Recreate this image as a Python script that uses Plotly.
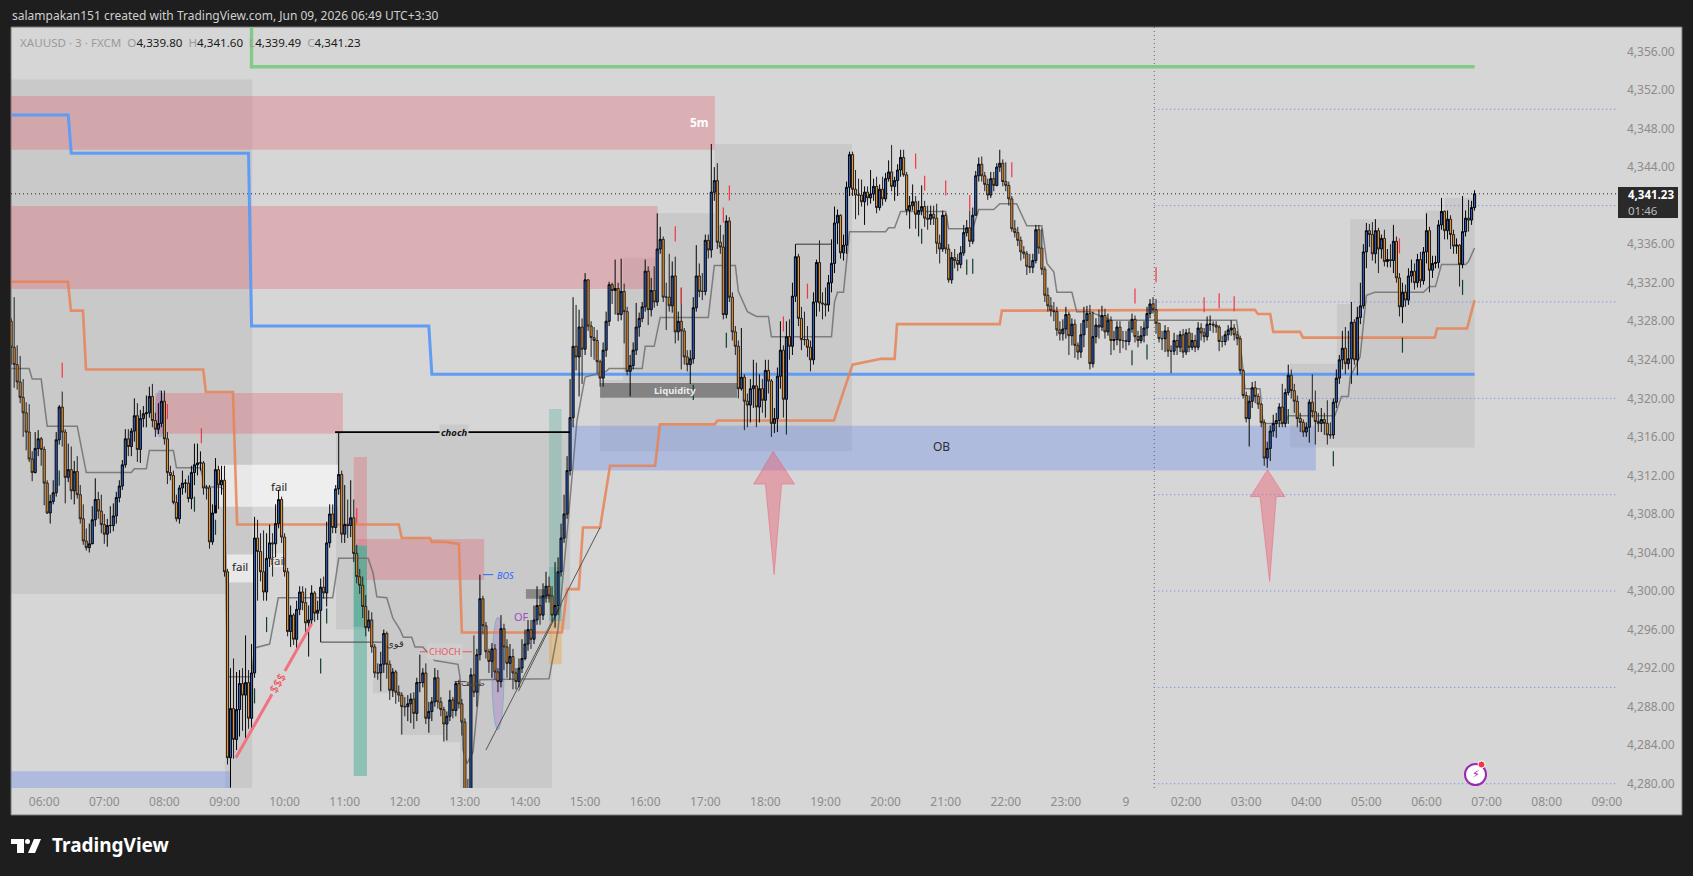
import plotly.graph_objects as go

# ---------- price data: one row per hour-ish (values are price minus PRICE_BASE) ----------
PRICE_BASE = 4200
FIRST_BAR = -1
FIRST_OPEN = 128.0
CLOSE = [
125.3,123.5,121.7,120.1,118.5,116.5,113.7,112.3,114.8,115.8,114.7,111.2,108.1,109.3,110.2,115.7,119.1,116.5,111.8,112.6,
110.4,112.4,110.0,107.5,105.2,104.5,104.9,107.4,109.5,108.3,106.9,105.9,106.8,106.8,107.8,109.7,110.9,113.1,115.8,115.0,
116.6,118.2,114.7,117.9,118.4,118.5,120.2,117.7,116.8,117.4,119.7,115.8,112.3,112.0,109.2,107.5,110.7,111.2,111.2,109.6,
112.3,113.1,113.3,113.3,110.7,110.7,105.1,108.1,112.6,111.0,111.5,102.0,82.7,87.8,84.6,87.7,90.4,89.2,90.5,86.8,
91.5,105.5,104.1,102.0,99.9,103.4,105.0,104.9,107.0,109.5,105.6,102.0,95.8,97.5,95.0,98.1,99.9,98.8,96.7,97.0,
99.8,97.7,98.0,100.4,99.8,105.0,108.0,106.6,110.6,112.1,105.9,106.9,106.8,107.6,103.9,101.5,100.6,98.4,96.2,97.0,
94.2,91.5,91.5,92.4,95.6,92.4,89.7,91.6,89.5,89.2,88.0,88.0,88.3,88.8,87.3,90.5,90.5,91.5,86.8,87.5,
88.5,91.0,88.5,87.7,86.2,87.0,88.7,87.6,90.4,88.3,86.4,79.2,79.0,91.3,89.5,93.4,99.2,96.4,93.7,92.7,
94.0,91.6,90.6,96.1,94.2,92.5,93.2,91.5,90.6,92.0,93.0,94.5,96.0,95.0,97.0,98.5,97.5,99.5,100.5,99.5,
97.5,98.5,102.0,105.5,108.0,112.5,118.0,125.4,124.3,127.4,125.1,132.3,127.5,126.3,126.0,123.8,122.1,125.0,128.0,131.8,
131.2,131.4,128.7,131.1,129.0,122.8,123.4,125.0,127.4,128.3,129.5,133.2,129.2,131.2,130.0,135.5,136.5,130.5,130.5,129.6,
132.7,126.9,128.0,127.0,124.3,123.5,124.1,129.4,132.7,131.1,131.1,136.4,135.4,141.4,142.6,136.2,135.7,128.7,138.4,130.5,
126.9,125.4,121.0,122.2,119.7,119.3,121.0,121.3,119.1,121.0,119.8,122.9,121.8,117.4,117.9,122.3,125.0,119.9,126.4,125.4,
130.6,134.7,128.3,126.1,126.1,125.3,124.0,130.0,134.1,129.9,129.8,129.7,132.0,134.0,138.2,139.0,135.1,135.9,141.9,145.3,
141.7,141.1,141.1,140.4,141.4,140.8,141.2,142.0,139.8,141.7,140.7,142.8,143.5,142.0,142.6,143.7,145.0,143.2,139.5,140.0,
140.4,139.1,139.5,139.9,138.7,138.6,139.1,138.7,136.1,135.5,139.0,135.5,132.3,134.6,134.3,133.9,135.1,137.2,137.7,136.3,
139.0,143.1,144.3,143.1,142.2,141.1,142.8,142.1,144.0,144.4,142.5,142.1,140.7,137.6,137.2,136.4,135.2,135.0,133.7,133.6,
134.3,137.5,135.6,133.4,130.7,129.6,129.1,129.0,127.1,126.7,127.2,128.7,126.5,127.7,125.5,124.8,126.6,128.1,128.8,123.6,
126.4,127.6,127.4,128.6,126.9,128.1,126.0,126.1,127.4,126.0,126.0,125.9,127.2,128.2,126.4,126.0,126.5,127.3,128.8,129.8,
129.2,127.8,126.2,126.2,127.0,124.9,124.9,126.0,125.3,126.6,124.8,126.8,125.3,126.0,125.3,127.3,126.8,126.4,127.7,127.7,
127.6,127.4,125.9,125.9,126.6,127.1,127.3,126.6,126.2,122.9,120.3,117.9,119.7,121.1,120.2,119.4,117.5,113.8,114.8,116.6,
117.4,117.7,119.1,117.4,120.6,122.4,120.8,119.7,117.9,117.5,116.5,117.0,119.6,118.6,117.6,117.4,117.8,117.4,116.2,116.2,
119.6,122.1,124.0,125.2,123.6,124.1,127.9,124.0,128.4,129.6,135.2,137.4,137.0,135.0,137.4,135.5,136.6,134.2,134.4,134.3,
136.3,132.5,129.5,131.0,130.2,132.7,133.2,132.0,134.4,132.2,135.2,137.4,133.3,134.0,134.1,138.0,139.4,137.4,138.6,137.0,
135.8,135.9,133.9,137.3,138.7,138.5,139.8,141.23,
]
HIGH = [
128.3,130.5,125.5,124.4,122.0,119.6,119.4,114.5,116.5,116.7,116.0,115.0,111.5,110.0,111.5,116.5,119.3,120.7,116.8,115.3,
115.0,113.5,114.0,111.0,109.0,106.5,107.0,108.8,111.7,110.3,110.0,108.0,107.5,108.8,109.1,110.3,111.5,113.6,116.8,116.8,
116.9,120.0,119.5,118.8,119.2,120.3,121.2,121.5,118.5,119.5,120.8,120.8,116.5,113.0,112.5,110.0,111.0,112.5,111.6,112.0,
113.0,115.3,115.3,114.5,113.5,111.0,111.0,109.0,113.8,113.0,113.0,113.0,102.3,92.0,93.0,91.6,91.8,92.0,95.4,91.8,
94.5,107.7,107.4,106.0,106.3,106.0,106.9,106.0,109.0,110.5,109.8,106.0,102.4,98.5,97.7,99.0,100.5,100.5,100.3,98.5,
100.6,100.0,99.0,101.3,101.5,107.2,109.0,109.0,111.0,116.5,112.5,111.0,109.5,111.5,109.5,104.8,102.3,101.5,99.6,98.0,
97.8,94.5,92.5,93.7,96.0,95.8,92.8,92.0,91.8,90.2,89.5,89.0,89.2,89.4,89.5,91.0,93.4,92.0,92.5,88.5,
89.0,92.0,91.8,89.0,88.0,87.5,89.7,89.0,90.6,90.8,88.8,86.8,80.5,92.0,95.4,94.0,101.7,99.5,96.8,94.0,
94.6,94.5,92.0,97.5,96.6,95.0,94.5,94.0,92.0,93.0,95.0,96.0,97.0,97.0,98.5,100.5,99.5,100.8,102.0,101.5,
100.5,103.0,103.5,107.0,110.0,114.0,122.0,130.5,129.7,129.2,128.3,133.0,132.3,128.0,127.4,127.1,124.0,125.8,129.0,132.1,
132.0,134.4,132.0,134.5,131.9,129.5,124.5,125.8,129.9,128.9,130.0,134.4,133.7,132.5,133.7,139.2,137.8,136.8,132.0,135.0,
134.2,134.7,129.0,131.5,127.3,125.0,125.0,130.5,135.9,134.0,133.0,137.0,137.0,146.4,144.0,144.4,138.0,137.0,139.0,138.8,
131.0,127.5,126.0,127.3,122.5,120.5,122.0,124.0,123.7,122.5,122.0,124.0,124.0,122.0,119.0,123.2,128.0,125.5,128.0,128.2,
132.0,136.0,135.0,129.5,129.0,127.5,126.0,131.0,134.4,136.4,131.0,131.5,132.8,136.5,139.9,139.6,139.1,137.0,142.5,145.6,
145.6,143.7,142.8,142.7,142.0,142.0,143.7,142.8,143.0,142.2,143.0,143.4,144.7,146.3,143.0,144.3,145.8,145.8,143.5,141.0,
142.2,141.0,140.5,142.1,140.5,140.0,140.0,140.0,140.2,137.0,139.5,139.2,136.0,135.2,135.5,135.0,135.8,138.0,138.5,139.5,
139.8,143.6,145.0,145.1,143.5,142.8,143.5,143.5,144.4,145.8,144.8,144.5,142.5,141.0,138.5,137.8,136.8,135.8,135.3,135.0,
135.0,138.0,138.0,137.6,133.7,131.5,130.5,130.0,129.5,128.0,128.2,129.5,129.0,128.3,128.2,125.8,127.8,129.5,129.6,129.7,
129.0,128.3,129.2,129.6,129.3,128.8,128.5,127.0,128.0,128.0,127.0,127.0,128.0,128.8,128.6,127.0,127.5,128.0,129.5,130.3,
130.5,130.3,127.8,127.0,127.6,127.4,125.5,126.8,126.6,127.0,127.2,127.2,127.3,126.8,126.6,127.9,127.8,127.3,128.5,128.6,
128.0,128.0,127.6,126.5,127.0,127.6,128.1,127.7,127.0,126.5,123.0,120.7,120.3,121.7,121.8,120.5,119.5,117.8,115.5,117.2,
118.3,118.5,119.5,121.5,121.0,123.5,123.0,121.5,120.3,118.5,117.8,117.5,119.9,122.5,120.8,118.5,119.0,118.5,119.8,117.5,
120.0,123.0,124.5,127.0,127.4,127.0,130.0,128.2,129.5,132.0,136.0,138.2,138.1,138.3,138.6,137.7,137.0,137.5,135.5,136.0,
138.0,136.8,133.0,132.0,131.8,133.5,134.4,134.0,135.0,135.2,135.7,139.2,137.8,134.8,134.8,138.5,140.8,139.5,139.5,139.0,
137.5,136.6,136.0,141.0,139.5,140.6,140.5,141.6,
]
LOW = [
123.5,121.1,120.9,119.5,116.0,114.6,113.4,111.4,112.2,114.0,113.0,108.9,108.0,107.0,109.0,109.8,115.2,115.0,109.1,111.3,
109.5,109.0,109.6,107.0,104.8,104.2,104.0,105.0,106.7,107.5,106.0,104.9,104.6,106.0,106.2,107.0,109.2,110.5,112.8,114.0,
114.0,115.5,113.4,113.3,117.0,117.0,118.0,117.0,116.0,116.3,117.0,115.2,111.1,111.5,109.0,107.2,107.0,110.0,110.2,109.2,
108.5,111.0,112.0,112.5,110.0,109.5,104.4,104.8,108.9,108.5,110.0,101.5,82.0,79.6,82.6,83.5,84.9,85.5,84.7,85.7,
85.6,91.0,99.0,101.0,99.0,99.0,102.5,101.5,103.5,106.5,105.0,101.5,95.3,94.2,94.4,94.0,97.5,98.0,95.6,93.2,
96.5,96.8,97.0,94.7,99.2,98.4,104.5,106.0,106.0,110.0,105.0,105.0,105.5,105.6,103.0,100.8,99.7,97.2,95.3,95.8,
93.6,91.0,90.8,89.6,91.5,90.9,88.7,89.0,88.3,88.5,85.1,87.0,86.5,86.3,85.7,86.5,89.5,90.0,86.2,85.3,
86.5,88.0,87.8,87.0,84.4,84.5,86.5,86.8,87.0,87.8,85.0,78.5,78.0,79.0,89.0,88.0,92.8,95.5,93.0,91.5,
91.0,90.8,89.5,90.0,91.8,91.0,90.8,89.8,89.8,90.0,91.5,92.8,93.8,94.0,94.5,96.5,96.5,97.0,98.8,98.8,
96.8,96.2,97.5,101.5,105.0,107.5,112.0,117.0,122.9,120.2,121.5,124.5,127.0,124.3,124.0,122.6,121.2,121.2,124.3,127.5,
129.8,128.7,128.0,128.1,125.7,122.4,120.2,123.0,124.5,126.4,127.9,129.0,127.6,128.5,129.4,129.6,135.0,130.0,127.1,129.0,
128.9,125.7,126.0,123.0,123.5,122.8,121.5,123.6,129.0,130.5,130.2,130.7,134.5,134.6,140.5,135.5,135.0,128.2,128.3,130.0,
126.0,124.5,120.0,120.8,116.7,117.0,117.5,119.0,117.0,117.5,118.5,118.0,120.5,116.0,116.4,116.5,121.0,118.0,117.6,124.0,
124.5,130.0,127.5,125.0,125.5,124.3,122.8,123.5,128.5,129.0,128.2,128.5,129.0,131.0,133.0,136.0,134.5,134.3,135.0,141.0,
141.0,138.6,139.0,139.9,138.0,140.0,140.2,140.5,139.2,139.5,140.0,140.4,142.5,141.5,140.5,141.0,143.0,143.0,139.0,137.6,
139.5,137.6,136.8,139.0,137.8,137.5,138.0,138.0,135.0,134.0,135.2,135.0,132.0,131.9,133.5,133.2,133.5,134.8,136.8,135.7,
136.0,139.0,142.5,142.5,141.5,140.6,140.8,141.5,142.0,143.5,142.0,141.5,140.0,137.3,136.7,135.8,134.3,134.5,132.8,133.0,
133.0,134.0,135.0,132.8,130.0,129.0,128.5,128.0,126.5,126.0,126.0,126.2,124.5,125.5,124.2,124.0,124.2,125.3,127.3,123.0,
123.2,125.7,126.2,127.0,126.2,126.5,124.5,125.0,125.5,124.7,125.2,125.0,125.5,126.8,125.8,125.3,125.7,125.8,126.5,128.3,
128.8,126.7,125.8,125.0,124.8,124.3,122.6,124.5,124.5,124.8,124.2,124.5,124.8,125.0,124.8,125.0,126.0,125.8,126.0,127.0,
126.8,126.8,124.9,125.3,125.5,126.0,126.5,126.0,125.5,122.5,120.0,117.5,115.0,119.0,119.5,118.9,117.0,113.0,112.8,113.5,
116.0,115.9,117.0,117.0,117.0,120.3,120.0,118.5,117.0,116.5,116.0,116.0,115.4,118.0,115.2,116.5,116.5,116.2,115.2,115.8,
115.8,119.0,121.5,123.0,122.5,123.0,121.5,123.5,122.4,127.7,129.3,133.5,135.7,134.3,134.0,133.0,134.5,133.7,133.6,133.6,
133.0,132.0,128.5,127.8,129.5,129.7,132.0,131.3,131.5,131.5,131.8,134.0,131.0,132.5,133.5,133.5,137.5,136.5,136.5,135.5,
135.0,135.0,131.6,133.5,136.8,137.3,138.0,139.49,
]

# ---------- axis labels (4,340 sits under the last-price tag in the reference) ----------
PRICE_TICKS = [4280,4284,4288,4292,4296,4300,4304,4308,4312,4316,4320,4324,4328,4332,4336,4344,4348,4352,4356]
TIME_TICK_BARS = [10 + 20 * k for k in range(27)]
TIME_TICK_TEXT = ["06:00","07:00","08:00","09:00","10:00","11:00","12:00","13:00","14:00","15:00","16:00","17:00","18:00",
                  "19:00","20:00","21:00","22:00","23:00","9","02:00","03:00","04:00","05:00","06:00","07:00","08:00","09:00"]
X_RANGE = [-1.05, 533.4]
Y_RANGE = [4279.56, 4358.54]

# ---------- indicator lines (bar, price) ----------
GREEN_X = [79, 79, 486]
GREEN_Y = [4358.54, 4354.42, 4354.42]
BLUE_X = [-1, 18, 19, 78, 79, 138, 139, 486]
BLUE_Y = [4349.4, 4349.4, 4345.45, 4345.45, 4327.5, 4327.5, 4322.5, 4322.5]
ORANGE_X = [-1,17.9,18.9,22.9,23.9,62.9,63.8,72.8,74.2,128,129,138.4,139,143.4,148,149,182.3,184,187.9,189.3,195,198.3,
            213.3,214.9,233.2,234,272.8,279,288.5,293,293.8,328,328.7,412.9,413.9,418,419,427.9,428.9,472.8,473.5,483.5,486]
ORANGE_Y = [4332.1,4332.1,4329.1,4329.1,4323.0,4323.0,4320.66,4320.66,4306.9,4306.9,4305.5,4305.5,4305.1,4305.1,4304.9,4295.7,
            4295.7,4300.2,4300.2,4306.6,4306.6,4313,4313,4317.3,4317.3,4317.7,4317.7,4323.5,4324.1,4324.1,4327.7,4327.7,4329.1,
            4329.2,4328.75,4328.75,4326.9,4326.9,4326.3,4326.3,4327.25,4327.25,4330.2]
MA_X = [-1,5,6,9,11,21,24,39,40,44,45,53,54,62,63.5,68.5,70,71,79,80,85,87.9,106,108,117.8,119.4,120.7,124,126,128.4,129.5,
        132.3,133.4,136,137.7,140,147.7,148.4,149.4,150.7,152.7,155,178,181,184,187.3,190,197,198,209,210,213,215,231,233,
        240,241,244,247,251,252,272,273,274,276,278,290,291,293,295,310,311,317,319,321,326,328,333.6,337,342,343.7,346,347,
        352,353.6,358,365,406.8,408.5,409.6,414.6,415.6,423,424,439.5,441.7,444,444.6,447.9,450,452.8,469,471,473,475,483,484,486]
MA_Y = [4323.1,4323.1,4322,4322,4317.1,4317.1,4312.3,4312.3,4312.7,4312.7,4314.6,4314.6,4312.8,4312.8,4310.8,4310.8,4310.5,
        4291.1,4291.1,4294.1,4294.5,4299.3,4299.3,4303.4,4303.4,4301.9,4299.4,4299.3,4297.2,4296,4295.2,4295.2,4294.2,4294.2,
        4293.6,4292.8,4292.4,4291,4283.5,4282.1,4283.3,4290.8,4290.9,4296,4306,4317.7,4322.2,4322.8,4323.1,4323.1,4325.4,
        4325.4,4328.4,4328.4,4333.8,4333.8,4331.1,4329,4328.5,4328.5,4326.4,4326.4,4330,4331,4331,4337.3,4337.3,4337.7,4337.7,
        4339.4,4339.4,4337.6,4337.6,4337.6,4339.6,4339.6,4340.2,4340.2,4337.9,4337.9,4334,4333.1,4331,4331,4329,4329,4328.1,
        4328.1,4324.3,4321,4321,4317.4,4317.4,4318.2,4318.2,4320.2,4320.2,4322.2,4324.3,4330.7,4331,4331,4331.6,4331.6,4333.9,
        4333.9,4334.2,4335.6]
LAST_PRICE = 4341.23
SESSION_BAR = 379.4
SESSION_LEVELS = [4350, 4340, 4330, 4320, 4310, 4300, 4290, 4280]

# ---------- zones: (first bar, last bar, low price, high price) ----------
GREY_ZONES = [(-1.05,79.2,4299.7,4353.1),(70.2,79.2,4279.56,4299.7),
              (107.1,185,4296,4316.6),(119.4,179,4289.4,4296),(128.4,179,4285.06,4289.4),(142.7,179,4284.3,4285.06),(148.4,179,4279.56,4284.3),
              (195,202.7,4314.5,4321.9),(202.7,214,4314.5,4334.6),(214,233.2,4314.5,4339.2),(233.2,278.8,4314.5,4346.4),
              (424.6,486,4314.9,4323.6),(440.2,486,4323.6,4329.8),(444.6,486,4329.8,4338.6),(469.5,486,4338.6,4339.5),(476,486,4339.5,4340.8)]
PINK_ZONES = [(-1.05,233.2,4345.8,4351.38),(-1.05,214.2,4331.35,4339.96),(46.9,109.4,4316.33,4320.56),
              (114,156.4,4301.15,4305.4),(113,117.4,4304.7,4313.9)]
BLUE_ZONES = [(185.7,433.2,4312.5,4317.15),(-1.05,72.2,4279.56,4281.3)]
TEAL_ZONES = [(113,117.4,4280.8,4304.7),(113,117.4,4296.3,4304.7)]
PALE_TEAL_ZONES = [(178,182.2,4296.9,4318.9),(178,182.2,4296.9,4302.5)]
AMBER_ZONES = [(178,182.2,4292.4,4296.9)]
WHITE_ZONES = [(68.2,107.8,4308.75,4313.1),(70.8,79.8,4300.9,4303.8)]
FAINT_WHITE_ZONES = [(84.5,90,4302.5,4303.9)]
DARK_ZONES = [(195,240.6,4320.07,4321.6)]
SOFT_DARK_ZONES = [(170.3,178.5,4299.2,4300.2)]
ELLIPSES = [(159,163,4285.6,4297.3),(47,50,4316,4320.8)]

# ---------- thin drawn lines: (x0, x1, y0, y1) ----------
CHOCH_LINE = (106.8, 185, 4316.5, 4316.5)
BOS_LINE = (156, 159.4, 4301.7, 4301.7)
RED_CHOCH_LINE = (135, 152.4, 4293.7, 4293.7)
STRONG_LINE = (102, 122.3, 4294.7, 4294.7)
WEAK_LINE = (146.5, 150.5, 4290.6, 4290.6)
LEVEL_LINE = (260, 272, 4336, 4336)
TREND_LINES = [(157, 195, 4283.5, 4306.6), (167.8, 182.1, 4289.6, 4298.6)]
SSS_LINES = [(73.8, 85.8, 4282.7, 4289.3), (90.1, 99, 4291.7, 4296.6)]

# ---------- markers (bar, top price of the tick) ----------
RED_TICK_BARS = [16,51,62.3,114,220,222,236,238,256,264,300,303,310,318,332,373,380,396,401,406,461]
RED_TICK_TOPS = [4323.7,4319.4,4316.9,4308.6,4337.85,4331.4,4339.8,4342.1,4328.5,4331.9,4345.4,4343.1,4342.6,4341.1,4344.5,
                 4331.4,4333.6,4330.5,4330.9,4330.6,4336.6]
GREEN_TICK_BARS = [15,60,67,80,84,102,104,226,237,257,302,317,319,372,377,424,439,462,482]
GREEN_TICK_TOPS = [4312.5,4309.8,4307.4,4289.9,4297.3,4293,4298.2,4321.4,4326.8,4317.8,4337.6,4334.4,4334.5,4325,4325.6,
                   4318.9,4314.5,4326.3,4332.3]
TICK_LENGTH = 1.56

# ---------- arrows (bar, price) ----------
ARROW1_X = [252.6, 259.7, 255.4, 252.9, 250.0, 246.1, 252.6]
ARROW1_Y = [4314.5, 4311.1, 4311.1, 4301.7, 4311.1, 4311.1, 4314.5]
ARROW2_X = [417.1, 422.9, 420.0, 417.8, 414.6, 411.4, 417.1]
ARROW2_Y = [4312.6, 4309.8, 4309.8, 4301.0, 4309.8, 4309.8, 4312.6]

# ---------- page geometry (pixels of the 1693x876 page) ----------
W, H = 1693, 876
PL, PR, PT, PB = 11, 1617, 27, 788
FONT = "Noto Sans"


def fx(px):
    return (px - PL) / (PR - PL)


def fy(py):
    return (PB - py) / (PB - PT)


bars = [FIRST_BAR + i for i in range(len(CLOSE))]
assert len(CLOSE) == len(HIGH) == len(LOW), (len(CLOSE), len(HIGH), len(LOW))
closes = [PRICE_BASE + v for v in CLOSE]
highs = [PRICE_BASE + v for v in HIGH]
lows = [PRICE_BASE + v for v in LOW]
opens = [PRICE_BASE + FIRST_OPEN] + closes[:-1]

fig = go.Figure()


def line(xs, ys, color, width, dash=None, z=0):
    fig.add_trace(go.Scatter(x=xs, y=ys, mode="lines", line=dict(color=color, width=width, dash=dash),
                             hoverinfo="skip", showlegend=False, zorder=z))


def seg(s, color, width, dash=None, z=0):
    line([s[0], s[1]], [s[2], s[3]], color, width, dash, z)


# lines below candles
line([X_RANGE[0], X_RANGE[1]], [LAST_PRICE, LAST_PRICE], "#222222", 1, "1px,3px")
line([SESSION_BAR, SESSION_BAR], [Y_RANGE[0], Y_RANGE[1]], "#606060", 1, "1px,3px")
for lvl in SESSION_LEVELS:
    line([SESSION_BAR, X_RANGE[1]], [lvl, lvl], "#5f84ee", 1, "1px,3px")
line(GREEN_X, GREEN_Y, "#85c98a", 3.4)
line(BLUE_X, BLUE_Y, "#5f9cf3", 3)
line(ORANGE_X, ORANGE_Y, "rgba(232,130,85,0.85)", 2.6)
line(MA_X, MA_Y, "rgba(105,105,105,0.8)", 1.5)
seg(STRONG_LINE, "#444444", 1)
seg(WEAK_LINE, "#444444", 1)
seg(LEVEL_LINE, "#333333", 1)
for t in TREND_LINES:
    seg(t, "#555555", 1)

fig.add_trace(go.Candlestick(
    x=bars, open=opens, high=highs, low=lows, close=closes, whiskerwidth=0, zorder=1,
    increasing=dict(fillcolor="#2c5fc0", line=dict(color="#050505", width=1)),
    decreasing=dict(fillcolor="#f0922a", line=dict(color="#202020", width=1)),
    hoverinfo="skip", showlegend=False))

# lines and marks above candles
seg(CHOCH_LINE, "#000000", 1.8, z=2)
seg(BOS_LINE, "#2962ff", 1, z=2)
seg(RED_CHOCH_LINE, "#f0525c", 1, z=2)
for s in SSS_LINES:
    seg(s, "#f2727f", 3, z=2)
for b, top in zip(RED_TICK_BARS, RED_TICK_TOPS):
    line([b, b], [top, top - TICK_LENGTH], "#f23645", 1.2, z=2)
for b, top in zip(GREEN_TICK_BARS, GREEN_TICK_TOPS):
    line([b, b], [top, top - TICK_LENGTH], "#0f3d2e", 1.2, z=2)
for ax_, ay_ in ((ARROW1_X, ARROW1_Y), (ARROW2_X, ARROW2_Y)):
    fig.add_trace(go.Scatter(x=ax_, y=ay_, mode="lines", fill="toself", fillcolor="rgba(236,90,110,0.42)",
                             line=dict(color="rgba(236,90,110,0.45)", width=1), hoverinfo="skip",
                             showlegend=False, zorder=2))

shapes = []


def page_rect(x0, y0, x1, y1, fill, line_color=None, layer="below", kind="rect", lw=1):
    shapes.append(dict(type=kind, xref="paper", yref="paper", x0=fx(x0), x1=fx(x1), y0=fy(y1), y1=fy(y0),
                       fillcolor=fill, line=dict(color=line_color or "rgba(0,0,0,0)", width=lw if line_color else 0),
                       layer=layer))


page_rect(11, 27, 1682, 815, "#d6d6d6", "#767676")


def zones(items, fill):
    for x0, x1, y0, y1 in items:
        shapes.append(dict(type="rect", xref="x", yref="y", x0=x0, x1=x1, y0=y0, y1=y1, fillcolor=fill,
                           line=dict(width=0), layer="below"))


zones(GREY_ZONES, "rgba(110,110,110,0.12)")
zones(PINK_ZONES, "rgba(230,90,105,0.30)")
zones(BLUE_ZONES, "rgba(83,127,237,0.30)")
zones(TEAL_ZONES, "rgba(72,170,148,0.50)")
zones(PALE_TEAL_ZONES, "rgba(72,170,148,0.30)")
zones(AMBER_ZONES, "rgba(235,160,50,0.40)")
zones(WHITE_ZONES, "rgba(255,255,255,0.58)")
zones(FAINT_WHITE_ZONES, "rgba(255,255,255,0.35)")
zones(DARK_ZONES, "#838383")
zones(SOFT_DARK_ZONES, "rgba(60,60,60,0.45)")
for x0, x1, y0, y1 in ELLIPSES:
    shapes.append(dict(type="circle", xref="x", yref="y", x0=x0, x1=x1, y0=y0, y1=y1,
                       fillcolor="rgba(150,90,200,0.28)", line=dict(color="rgba(90,170,200,0.6)", width=1),
                       layer="below"))

# price tag
page_rect(1618, 187, 1678, 218, "#2a2a2a", layer="above")
# lightning badge
page_rect(1465, 764, 1486, 785, "#ffffff", "#9c27b0", layer="above", kind="circle", lw=2)
page_rect(1478, 761, 1485, 768, "#f23645", "#ffffff", layer="above", kind="circle", lw=1)
# TradingView logo
page_rect(11, 839, 24, 844, "#ffffff", layer="above")
page_rect(17, 844, 24, 853, "#ffffff", layer="above")
page_rect(25, 839, 30, 844, "#ffffff", layer="above", kind="circle")
shapes.append(dict(type="path", xref="paper", yref="paper", layer="above", fillcolor="#ffffff", line=dict(width=0),
                   path=f"M {fx(34)} {fy(839)} L {fx(41)} {fy(839)} L {fx(35)} {fy(853)} L {fx(28)} {fy(853)} Z"))

notes = []


def note(x, y, text, size, color, bg=None, angle=0, font=FONT):
    notes.append(dict(x=x, y=y, xref="x", yref="y", text=text, showarrow=False, textangle=angle,
                      font=dict(size=size, color=color, family=font), bgcolor=bg, borderpad=1, align="center"))


def page_note(px, py, text, size, color, anchor="left", font=FONT):
    notes.append(dict(x=fx(px), y=fy(py), xref="paper", yref="paper", text=text, showarrow=False, xanchor=anchor,
                      yanchor="middle", font=dict(size=size, color=color, family=font)))


note(228, 4348.6, "<b>5m</b>", 12, "#ffffff")
note(88, 4310.9, "fail", 11.5, "#1c1c1c")
note(75.2, 4302.5, "fail", 11.5, "#1c1c1c")
note(87.8, 4303.2, "fail", 11.5, "#4a4a4a")
note(220, 4320.85, "<b>Liquidity</b>", 9.5, "#ececec")
note(308.6, 4315.05, "OB", 12, "#2e2e2e")
note(146.4, 4316.5, "<b><i>choch</i></b>", 9.5, "#111111", bg="#cacaca")
note(163.4, 4301.6, "<i>BOS</i>", 9, "#2962ff")
note(143.4, 4293.7, "CHOCH", 9, "#f0525c", bg="#cfcfcf")
note(126.7, 4294.6, "قوی", 10, "#333333", font="DejaVu Sans")
note(152.7, 4290.5, "ضعیف", 9, "#444444", font="DejaVu Sans")
note(169, 4297.4, "OF", 11, "#a24bc4")
note(87.8, 4290.5, "$$$", 12, "#f0525c", angle=-60)

page_note(10, 15, "salampakan151 created with TradingView.com, Jun 09, 2026 06:49 UTC+3:30", 12, "#cfcfcf")
G, K = "#9a9a9a", "#1a1a1a"
page_note(18, 42, f'<span style="color:{G}">XAUUSD · 3 · FXCM  O</span><span style="color:{K}">4,339.80</span>'
                  f'<span style="color:{G}">  H</span><span style="color:{K}">4,341.60</span>'
                  f'<span style="color:{G}">  L</span><span style="color:{K}">4,339.49</span>'
                  f'<span style="color:{G}">  C</span><span style="color:{K}">4,341.23</span>', 11.6, K)
page_note(1626, 194, "<b>4,341.23</b>", 11.5, "#ffffff")
page_note(1626, 210, "01:46", 11.5, "#bdbdbd")
page_note(1475.5, 774.5, "⚡", 11, "#9c27b0", anchor="center", font="DejaVu Sans")
page_note(50, 845, "<b>TradingView</b>", 19, "#ffffff")

fig.update_layout(
    width=W, height=H, autosize=False,
    margin=dict(l=PL, r=W - PR, t=PT, b=H - PB, pad=0),
    paper_bgcolor="#1e1e1e", plot_bgcolor="rgba(0,0,0,0)",
    showlegend=False, boxgap=0, hovermode=False, shapes=shapes, annotations=notes,
    font=dict(family=FONT, size=12, color="#8c8c8c"),
    xaxis=dict(range=X_RANGE, tickvals=TIME_TICK_BARS, ticktext=TIME_TICK_TEXT, showgrid=False, zeroline=False,
               showline=False, ticks="", ticklabelstandoff=5, rangeslider=dict(visible=False),
               tickfont=dict(size=12, color="#8c8c8c", family=FONT), tickangle=0),
    yaxis=dict(range=Y_RANGE, side="right", tickvals=PRICE_TICKS, tickformat=",.2f", showgrid=False, zeroline=False,
               showline=False, ticks="", ticklabelstandoff=9,
               tickfont=dict(size=12, color="#8c8c8c", family=FONT)),
)
fig.write_html("out.html", config=dict(displayModeBar=False), post_script="document.body.style.margin='0';")
